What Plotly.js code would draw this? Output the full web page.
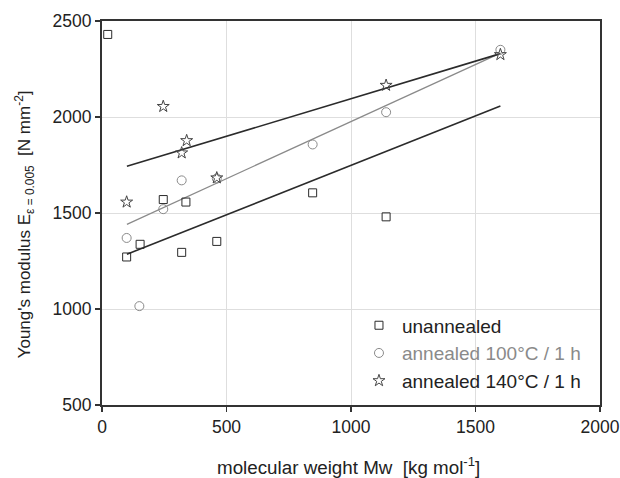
<!DOCTYPE html>
<html>
<head>
<meta charset="utf-8">
<script src="https://cdn.plot.ly/plotly-3.0.1.min.js"></script>
<style>html,body{margin:0;padding:0;background:#fff;}#chart{width:620px;height:478px;}</style>
</head>
<body>
<div id="chart"></div>
<script>
// Data
const unannealedX = [23, 99, 153, 246, 320, 337, 461, 846, 1141];
const unannealedY = [2430, 1271, 1337, 1570, 1295, 1557, 1352, 1605, 1480];
const anneal100X = [99, 150, 246, 320, 461, 846, 1141, 1600];
const anneal100Y = [1370, 1015, 1520, 1670, 1680, 1857, 2025, 2350];
const anneal140X = [99, 246, 320, 340, 461, 1141, 1600];
const anneal140Y = [1557, 2055, 1813, 1877, 1683, 2165, 2325];
// Linear fit lines (endpoints)
const fitX = [100, 1600];
const fitUnannealedY = [1285, 2057];
const fit100Y = [1441, 2333];
const fit140Y = [1743, 2330];
const seriesNames = ["unannealed", "annealed 100°C / 1 h", "annealed 140°C / 1 h"];
const xTicks = [0, 500, 1000, 1500, 2000];
const yTicks = [500, 1000, 1500, 2000, 2500];

const FONT = "Liberation Sans, Arial, sans-serif";
const dark = "#2b2b2b", gray = "#8a8a8a", starCol = "#444444";

const traces = [
  {x: fitX, y: fitUnannealedY, mode: "lines", line: {color: dark, width: 1.6}, showlegend: false, hoverinfo: "skip"},
  {x: fitX, y: fit100Y, mode: "lines", line: {color: gray, width: 1.3}, showlegend: false, hoverinfo: "skip"},
  {x: fitX, y: fit140Y, mode: "lines", line: {color: dark, width: 1.6}, showlegend: false, hoverinfo: "skip"},
  {x: unannealedX, y: unannealedY, name: seriesNames[0], mode: "markers",
   marker: {symbol: "square-open", size: 8, color: dark, line: {width: 1}}},
  {x: anneal100X, y: anneal100Y, name: seriesNames[1], mode: "markers",
   marker: {symbol: "circle-open", size: 9, color: gray, line: {width: 1}}},
  {x: anneal140X, y: anneal140Y, name: seriesNames[2], mode: "markers",
   marker: {symbol: "star-open", size: 9, color: starCol, line: {width: 1}}}
];

const layout = {
  width: 620, height: 478,
  margin: {l: 102, r: 20, t: 21, b: 73},
  paper_bgcolor: "#fff", plot_bgcolor: "#fff",
  font: {family: FONT, size: 17, color: "#222"},
  showlegend: true,
  legend: {x: 0.51, y: 0.012, xanchor: "left", yanchor: "bottom", bgcolor: "rgba(255,255,255,0)",
           font: {family: FONT, size: 19, color: "#222"}, tracegroupgap: 0, itemsizing: "trace", itemwidth: 36},
  xaxis: {range: [0, 2000], tickvals: xTicks, ticktext: xTicks.map(String),
          showgrid: true, gridcolor: "#dedede", gridwidth: 1, zeroline: false,
          showline: true, linecolor: "#333", linewidth: 2, mirror: true,
          ticks: "outside", ticklen: 5, tickwidth: 1.5, tickcolor: "#333",
          tickfont: {family: FONT, size: 17.5, color: "#222"}, fixedrange: true},
  yaxis: {range: [500, 2500], tickvals: yTicks, ticktext: yTicks.map(String),
          showgrid: true, gridcolor: "#dedede", gridwidth: 1, zeroline: false,
          showline: true, linecolor: "#333", linewidth: 2, mirror: true,
          ticks: "outside", ticklen: 5, tickwidth: 1.5, tickcolor: "#333",
          tickfont: {family: FONT, size: 17.5, color: "#222"}, fixedrange: true},
  annotations: [
    {text: "molecular weight Mw  [kg mol<sup>-1</sup>]", xref: "paper", yref: "paper",
     x: 0.495, y: -0.158, xanchor: "center", yanchor: "middle", showarrow: false,
     font: {family: FONT, size: 18.8, color: "#222"}},
    {text: "Young's modulus E<sub>ε = 0.005</sub>  [N mm<sup>-2</sup>]", xref: "paper", yref: "paper",
     x: -0.155, y: 0.47, xanchor: "center", yanchor: "middle", textangle: -90, showarrow: false,
     font: {family: FONT, size: 17, color: "#222"}}
  ]
};

Plotly.newPlot("chart", traces, layout, {displayModeBar: false, staticPlot: true}).then(function(){
  // colour the second legend entry's text grey like the reference
  const texts = document.querySelectorAll(".legendtext");
  if (texts.length > 1) texts[1].style.fill = gray;
});
</script>
</body>
</html>
